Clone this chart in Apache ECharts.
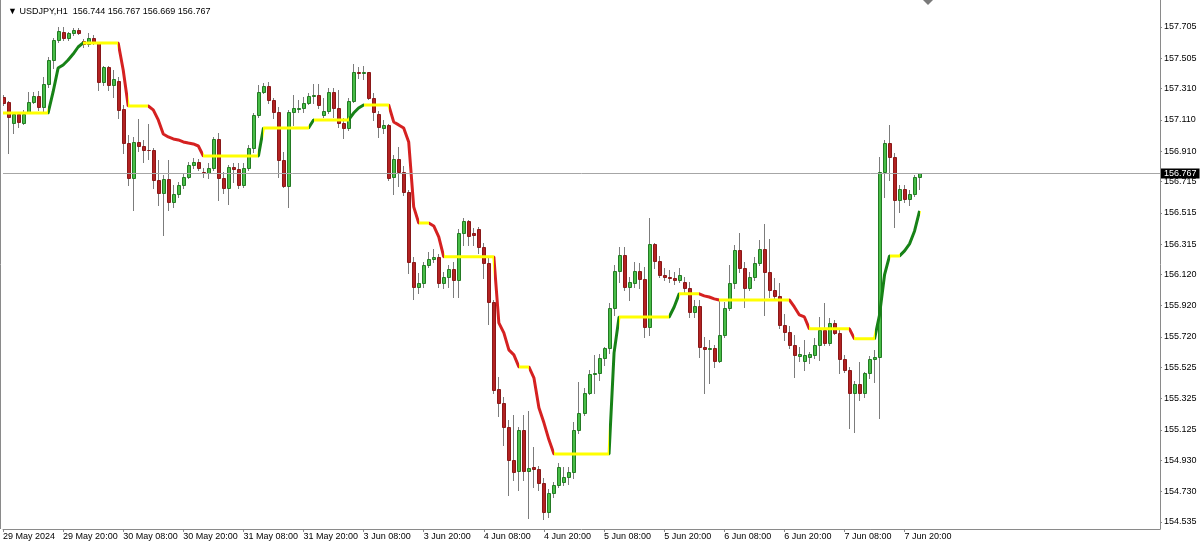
<!DOCTYPE html>
<html>
<head>
<meta charset="utf-8">
<script src="https://cdn.jsdelivr.net/npm/echarts@6/dist/echarts.min.js"></script>
<style>
html,body{margin:0;padding:0;background:#ffffff;}
#chart{width:1200px;height:545px;}
</style>
</head>
<body>
<div id="chart"></div>
<script>
// ---------------- DATA ----------------
const symbolName = 'USDJPY,H1';

// x-axis tick labels, one every 12 hourly bars starting at bar 0
const xTickLabels = [
  '29 May 2024', '29 May 20:00', '30 May 08:00', '30 May 20:00',
  '31 May 08:00', '31 May 20:00', '3 Jun 08:00', '3 Jun 20:00',
  '4 Jun 08:00', '4 Jun 20:00', '5 Jun 08:00', '5 Jun 20:00',
  '6 Jun 08:00', '6 Jun 20:00', '7 Jun 08:00', '7 Jun 20:00'
];

// price-axis tick labels
const yTickValues = [
  157.705, 157.505, 157.310, 157.110, 156.910, 156.715, 156.515, 156.315, 156.120,
  155.920, 155.720, 155.525, 155.325, 155.125, 154.930, 154.730, 154.535
];

// hourly candles: [open, close, low, high]
const ohlc = [
  [157.257,157.218,157.206,157.270],[157.225,157.129,156.898,157.231],[157.090,157.148,157.026,157.154],[157.148,157.097,157.065,157.154],
  [157.090,157.148,157.084,157.174],[157.161,157.225,157.154,157.289],[157.225,157.263,157.218,157.289],[157.263,157.193,157.174,157.295],
  [157.193,157.340,157.167,157.385],[157.340,157.494,157.321,157.513],[157.494,157.622,157.442,157.635],[157.622,157.679,157.609,157.705],
  [157.673,157.635,157.622,157.705],[157.635,157.667,157.622,157.673],[157.667,157.686,157.654,157.699],[157.686,157.667,157.660,157.699],
  [157.615,157.596,157.577,157.628],[157.596,157.635,157.583,157.667],[157.635,157.603,157.596,157.654],[157.603,157.353,157.302,157.609],
  [157.353,157.449,157.334,157.455],[157.449,157.334,157.302,157.455],[157.334,157.372,157.257,157.430],[157.360,157.174,157.122,157.385],
  [157.180,156.962,156.898,157.206],[156.965,156.738,156.694,157.014],[156.738,156.969,156.533,157.001],[156.969,156.943,156.911,157.116],
  [156.943,156.918,156.841,156.982],[156.918,156.915,156.860,157.084],[156.915,156.726,156.674,156.930],[156.726,156.642,156.565,156.854],
  [156.642,156.732,156.373,156.758],[156.732,156.585,156.533,156.854],[156.585,156.636,156.553,156.694],[156.636,156.694,156.617,156.713],
  [156.694,156.745,156.674,156.770],[156.745,156.822,156.740,156.841],[156.822,156.841,156.802,156.866],[156.841,156.802,156.790,156.860],
  [156.777,156.770,156.745,156.802],[156.770,156.802,156.738,156.834],[156.802,156.988,156.790,157.001],[156.988,156.738,156.597,157.026],
  [156.738,156.674,156.642,156.777],[156.674,156.809,156.572,156.822],[156.809,156.796,156.713,156.834],[156.796,156.694,156.674,156.834],
  [156.694,156.802,156.681,156.834],[156.802,156.930,156.790,156.950],[156.930,157.142,156.905,157.154],[157.142,157.289,157.129,157.334],
  [157.289,157.327,157.282,157.346],[157.327,157.238,157.218,157.353],[157.238,157.161,157.122,157.250],[157.161,156.854,156.745,157.193],
  [156.854,156.687,156.681,156.905],[156.687,157.161,156.553,157.174],[157.161,157.186,157.078,157.270],[157.180,157.186,157.161,157.238],
  [157.186,157.218,157.161,157.257],[157.218,157.263,157.212,157.282],[157.263,157.270,157.218,157.340],[157.270,157.206,157.186,157.340],
  [157.142,157.167,157.129,157.250],[157.167,157.289,157.154,157.314],[157.289,157.186,157.129,157.314],[157.186,157.090,157.065,157.302],
  [157.090,157.058,156.994,157.122],[157.058,157.231,157.046,157.250],[157.231,157.417,157.225,157.468],[157.417,157.410,157.379,157.449],
  [157.410,157.417,157.372,157.455],[157.417,157.250,157.244,157.420],[157.250,157.161,157.110,157.282],[157.150,157.065,157.001,157.167],
  [157.058,157.078,157.026,157.110],[157.078,156.738,156.726,157.084],[156.745,156.860,156.636,156.886],[156.860,156.777,156.687,156.937],
  [156.777,156.649,156.630,156.815],[156.649,156.201,156.130,156.662],[156.201,156.041,155.964,156.233],[156.041,156.066,156.002,156.130],
  [156.066,156.181,156.041,156.201],[156.181,156.220,156.169,156.265],[156.220,156.233,156.201,156.284],[156.233,156.066,156.041,156.252],
  [156.066,156.105,156.034,156.137],[156.105,156.156,156.041,156.181],[156.156,156.085,155.976,156.201],[156.085,156.386,155.976,156.412],
  [156.386,156.463,156.309,156.482],[156.463,156.367,156.309,156.469],[156.386,156.373,156.309,156.418],[156.412,156.297,156.258,156.425],
  [156.297,156.194,156.098,156.322],[156.194,155.944,155.804,156.226],[155.944,155.381,155.362,155.957],[155.388,155.298,155.215,155.464],
  [155.298,155.144,155.029,155.336],[155.144,154.933,154.709,155.189],[154.933,154.857,154.805,155.221],[154.860,155.125,154.741,155.144],
  [155.125,154.863,154.805,155.221],[154.863,154.882,154.562,155.247],[154.888,154.876,154.760,155.016],[154.876,154.786,154.741,154.895],
  [154.786,154.600,154.555,154.818],[154.600,154.722,154.568,154.747],[154.722,154.773,154.696,154.792],[154.773,154.888,154.760,154.914],
  [154.792,154.824,154.773,154.888],[154.824,154.857,154.779,154.888],[154.857,155.125,154.818,155.176],[155.125,155.234,155.106,155.432],
  [155.234,155.362,155.221,155.394],[155.362,155.483,155.355,155.509],[155.483,155.490,155.362,155.605],[155.490,155.586,155.445,155.612],
  [155.586,155.650,155.541,155.656],[155.650,155.906,155.618,155.938],[155.906,156.143,155.861,156.181],[156.143,156.245,156.073,156.297],
  [156.245,156.041,156.021,156.297],[156.041,156.073,155.957,156.105],[156.066,156.143,156.041,156.201],[156.143,156.092,156.034,156.194],
  [156.092,155.784,155.720,156.169],[155.784,156.316,155.733,156.482],[156.316,156.207,156.162,156.322],[156.207,156.117,156.105,156.239],
  [156.117,156.105,156.085,156.162],[156.105,156.098,156.073,156.149],[156.098,156.085,156.060,156.137],[156.085,156.117,156.073,156.162],
  [156.073,156.034,156.002,156.105],[156.034,155.880,155.848,156.073],[155.880,155.919,155.848,155.957],[155.919,155.656,155.592,155.957],
  [155.656,155.644,155.362,155.720],[155.644,155.650,155.426,155.701],[155.650,155.567,155.528,155.669],[155.567,155.733,155.560,155.957],
  [155.733,155.906,155.720,155.944],[155.906,156.066,155.893,156.181],[156.066,156.277,156.034,156.309],[156.277,156.162,156.137,156.386],
  [156.162,156.034,155.912,156.201],[156.034,156.105,156.021,156.137],[156.105,156.194,156.085,156.233],[156.194,156.284,156.181,156.341],
  [156.284,156.137,155.861,156.444],[156.137,156.021,155.976,156.348],[156.021,155.983,155.957,156.098],[155.983,155.797,155.778,156.066],
  [155.797,155.752,155.701,155.868],[155.752,155.669,155.650,155.791],[155.669,155.605,155.464,155.733],[155.599,155.612,155.567,155.656],
  [155.567,155.605,155.509,155.701],[155.592,155.612,155.554,155.624],[155.605,155.669,155.586,155.714],[155.669,155.765,155.573,155.848],
  [155.765,155.682,155.669,155.938],[155.682,155.810,155.669,155.842],[155.810,155.746,155.739,155.829],[155.746,155.580,155.490,155.778],
  [155.580,155.509,155.496,155.605],[155.509,155.362,155.138,155.528],[155.362,155.419,155.112,155.439],[155.419,155.362,155.317,155.560],
  [155.362,155.490,155.336,155.496],[155.490,155.580,155.458,155.599],[155.580,155.592,155.432,155.637],[155.592,156.777,155.202,156.873],
  [156.777,156.962,156.617,156.982],[156.962,156.873,156.726,157.078],[156.873,156.597,156.425,156.898],[156.597,156.668,156.521,156.694],
  [156.668,156.604,156.585,156.694],[156.604,156.636,156.565,156.662],[156.636,156.744,156.623,156.758],[156.744,156.767,156.669,156.767]
];

// trailing trend-line indicator value per bar
const trendLine = [
  157.154,157.154,157.154,157.154,157.154,157.154,157.154,157.154,157.154,157.154,
  157.289,157.442,157.462,157.494,157.532,157.577,
  157.603,157.603,157.603,157.603,157.603,157.603,157.603,157.603,
  157.430,
  157.199,157.199,157.199,157.199,157.199,
  157.174,157.110,157.020,157.001,156.988,156.982,156.969,156.962,156.956,156.943,
  156.879,156.879,156.879,156.879,156.879,156.879,156.879,156.879,156.879,156.879,156.879,156.879,
  157.058,157.058,157.058,157.058,157.058,157.058,157.058,157.058,157.058,157.058,
  157.110,157.110,157.110,157.110,157.110,157.110,157.110,157.110,
  157.154,157.186,
  157.206,157.206,157.206,157.206,157.206,157.206,
  157.097,157.078,157.058,156.969,156.553,
  156.450,156.450,156.450,
  156.431,156.361,
  156.233,156.233,156.233,156.233,156.233,156.233,156.233,156.233,156.233,156.233,156.233,
  155.810,155.746,155.637,155.605,
  155.528,155.528,155.528,
  155.458,155.266,155.170,155.061,
  154.971,154.971,154.971,154.971,154.971,154.971,154.971,154.971,154.971,154.971,154.971,154.971,
  155.618,
  155.848,155.848,155.848,155.848,155.848,155.848,155.848,155.848,155.848,155.848,155.848,
  155.912,
  155.996,155.996,155.996,155.996,155.996,
  155.983,155.976,155.964,
  155.957,155.957,155.957,155.957,155.957,155.957,155.957,155.957,155.957,155.957,155.957,155.957,155.957,155.957,155.957,
  155.912,155.861,155.848,
  155.772,155.772,155.772,155.772,155.772,155.772,155.772,155.772,155.772,
  155.708,155.708,155.708,155.708,155.708,
  155.861,156.117,
  156.239,156.239,156.239,
  156.271,156.316,156.399,156.527
];

// trend-line colour state per run of segments: [state, firstSegmentBar, lastSegmentBar]
// (segment k joins bar k-1 to bar k); G = up, R = down, Y = flat
const trendRuns = [
  ['Y',1,9],['G',10,16],['Y',17,23],['R',24,25],['Y',26,29],['R',30,40],['Y',41,51],
  ['G',52,52],['Y',53,61],['G',62,62],['Y',63,69],['G',70,72],['Y',73,77],['R',78,83],
  ['Y',84,85],['R',86,88],['Y',89,98],['R',99,103],['Y',104,105],['R',106,110],['Y',111,121],
  ['G',122,123],['Y',124,133],['G',134,135],['Y',136,139],['R',140,143],['Y',144,157],
  ['R',158,161],['Y',162,169],['R',170,170],['Y',171,174],['G',175,177],['Y',178,179],['G',180,183]
];

// ---------------- CHART ----------------
const TOTAL_SLOTS = 232; // bars + empty chart shift on the right
const categories = Array.from({ length: TOTAL_SLOTS }, (_, i) => String(i));
const candleRows = ohlc.map((d, i) => [i, d[0], d[1], d[2], d[3]]);
const last = ohlc[ohlc.length - 1];
const lastClose = last[1];

const COL = {
  bullFill: '#47bd47', bullEdge: '#237a23',
  bearFill: '#b22222', bearEdge: '#8a1818',
  wick: '#7c7c7c',
  G: '#178217', R: '#d52121', Y: '#ffff00',
  axis: '#8a8a8a', text: '#000000'
};
const FONT = 'Liberation Sans, DejaVu Sans, sans-serif';

function renderCandle(params, api) {
  const i = api.value(0);
  const o = api.value(1), c = api.value(2), l = api.value(3), h = api.value(4);
  const pTop = api.coord([i, Math.max(o, c)]);
  const pBot = api.coord([i, Math.min(o, c)]);
  const pHi = api.coord([i, h]);
  const pLo = api.coord([i, l]);
  const cx = Math.floor(pTop[0]);
  const bull = c >= o;
  const yT = Math.round(pTop[1]);
  const yB = Math.round(pBot[1]);
  return {
    type: 'group',
    children: [
      {
        type: 'line',
        shape: { x1: cx + 0.5, y1: Math.round(pHi[1]), x2: cx + 0.5, y2: Math.round(pLo[1]) + 1 },
        style: { stroke: COL.wick, lineWidth: 1 }
      },
      {
        type: 'rect',
        shape: { x: cx - 0.5, y: yT + 0.5, width: 3, height: Math.max(0, yB - yT) },
        style: {
          fill: bull ? COL.bullFill : COL.bearFill,
          stroke: bull ? COL.bullEdge : COL.bearEdge,
          lineWidth: 1
        }
      }
    ]
  };
}

const showTick = (idx) => idx % 12 === 0 && idx / 12 < xTickLabels.length;

const chart = echarts.init(document.getElementById('chart'), null, { renderer: 'canvas' });
chart.setOption({
  animation: false,
  backgroundColor: '#ffffff',
  title: {
    text: '\u25BC ' + symbolName + '  ' + [last[0], last[3], last[2], last[1]].map(v => v.toFixed(3)).join(' '),
    left: 3, top: 2,
    textStyle: { fontSize: 9, fontWeight: 'normal', color: COL.text, fontFamily: FONT }
  },
  grid: { left: 2, right: 40, top: 0, bottom: 16, containLabel: false },
  xAxis: {
    type: 'category',
    data: categories,
    boundaryGap: false,
    axisLine: { show: true, lineStyle: { color: COL.axis, width: 1 } },
    axisTick: { show: true, interval: showTick, length: 3, lineStyle: { color: COL.axis } },
    axisLabel: {
      interval: showTick,
      formatter: (v, idx) => xTickLabels[idx / 12] || '',
      align: 'left',
      margin: 3,
      fontSize: 9,
      color: COL.text,
      fontFamily: FONT
    },
    splitLine: { show: false }
  },
  yAxis: {
    type: 'value',
    position: 'right',
    min: 154.490,
    max: 157.878,
    axisLine: { show: true, lineStyle: { color: COL.axis, width: 1 } },
    axisTick: { show: true, customValues: yTickValues, length: 2, lineStyle: { color: COL.axis } },
    axisLabel: {
      customValues: yTickValues,
      formatter: v => Number(v).toFixed(3),
      margin: 4,
      fontSize: 9,
      color: COL.text,
      fontFamily: FONT
    },
    splitLine: { show: false }
  },
  visualMap: {
    type: 'piecewise',
    show: false,
    dimension: 0,
    seriesIndex: 1,
    pieces: trendRuns.map(([s, a, b]) => ({ gte: a - 1, lte: b, color: COL[s] })),
    outOfRange: { color: COL.Y }
  },
  graphic: [
    { type: 'line', shape: { x1: 0.5, y1: 0, x2: 0.5, y2: 529 }, style: { stroke: COL.axis, lineWidth: 1 }, silent: true },
    { type: 'polygon', shape: { points: [[923, 0], [933, 0], [928, 5]] }, style: { fill: '#7a7a7a' }, silent: true }
  ],
  series: [
    {
      type: 'custom',
      name: 'candles',
      renderItem: renderCandle,
      data: candleRows,
      encode: { x: 0, y: [1, 2, 3, 4] },
      clip: true,
      z: 2
    },
    {
      type: 'line',
      name: 'trend',
      data: trendLine,
      symbol: 'none',
      smooth: false,
      lineStyle: { width: 3 },
      z: 3,
      markLine: {
        silent: true,
        precision: 3,
        symbol: ['none', 'none'],
        animation: false,
        lineStyle: { color: '#a6a6a6', width: 1, type: 'solid' },
        label: {
          show: true,
          position: 'end',
          distance: 1,
          formatter: () => lastClose.toFixed(3),
          backgroundColor: '#000000',
          color: '#ffffff',
          fontSize: 9,
          fontFamily: FONT,
          padding: [1, 3, 0, 3]
        },
        data: [{ yAxis: lastClose }]
      }
    }
  ]
});
</script>
</body>
</html>
